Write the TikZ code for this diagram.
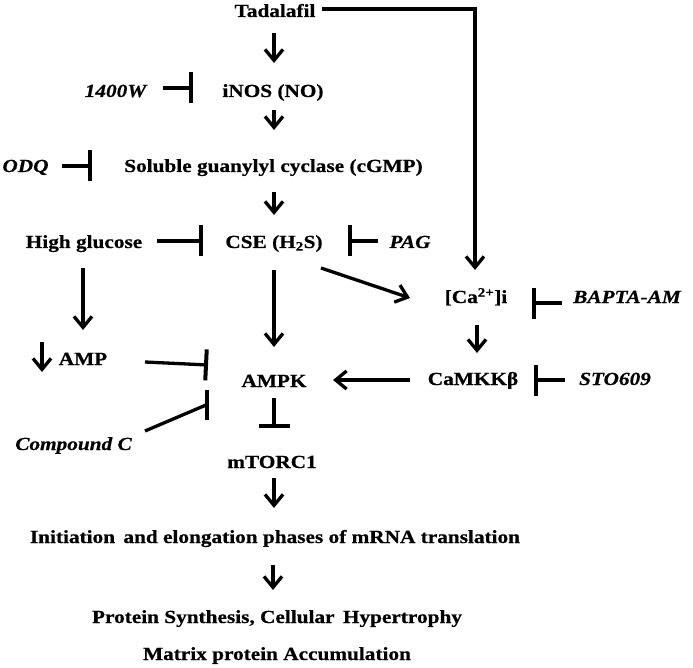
\documentclass[tikz,border=0pt]{standalone}
\usepackage{fontspec}
\setmainfont{Liberation Serif}[FakeStretch=1.15, BoldFeatures={FakeBold=0.6}, BoldItalicFeatures={FakeBold=0.6}]
\usetikzlibrary{arrows.meta,calc}
\tikzset{
  txt/.style={font=\fontsize{18.5}{21}\selectfont\bfseries, inner sep=0pt, anchor=base},
  drug/.style={font=\fontsize{18.5}{21}\selectfont\bfseries\itshape, inner sep=0pt, anchor=base},
  act/.style={line width=3.3pt, -{Straight Barb[length=11pt,width=18pt]}},
  inh/.style={line width=3.3pt, -{Bar[width=31pt,line width=4pt]}},
  plain/.style={line width=3.3pt},
  barline/.style={line width=4pt},
}
\begin{document}
\begin{tikzpicture}[x=1pt,y=-1pt]
\fill[white] (0,0) rectangle (693,668);
\useasboundingbox (0,0) rectangle (693,668);
% nodes
\node[txt] (tad) at (275,17) {Tadalafil};
\node[txt] (inos) at (273,97) {iNOS (NO)};
\node[drug] (w1400) at (115.5,97) {1400W};
\node[drug] (odq) at (25.5,172) {ODQ};
\node[txt] (sgc) at (273.5,172) {Soluble guanylyl cyclase (cGMP)};
\node[txt] (hg) at (84,248) {High glucose};
\node[txt] (cse) at (274,248) {CSE (H\textsubscript{2}S)};
\node[drug] (pag) at (410,248) {PAG};
\node[txt] (ca) at (476,303) {[Ca\textsuperscript{2+}]i};
\node[drug] (bapta) at (627,303) {BAPTA-AM};
\node[txt] (amp) at (83,365) {AMP};
\node[txt] (ampk) at (274,387) {AMPK};
\node[txt] (camkk) at (473,385) {CaMKKβ};
\node[drug] (sto) at (615,385) {STO609};
\node[drug] (cpdc) at (73.5,450) {Compound C};
\node[txt] (mtor) at (272,468) {mTORC1};
\node[txt] (init) at (275,543) {Initiation\, and elongation phases of mRNA translation};
\node[txt] (prot) at (277,623) {Protein Synthesis, Cellular\, Hypertrophy};
\node[txt] (matrix) at (277,660) {Matrix protein Accumulation};
% connectors
\draw[act] ($(tad.base)+(-1,16)$) -- ($(inos.base)+(1,-34)$);
\draw[act, line join=miter] ($(tad.base)+(47,-8)$) -| ($(ca.base)+(-1,-33)$);
\draw[inh] ($(w1400.base)+(47.5,-9)$) -- ($(inos.base)+(-80,-9)$);
\draw[act] ($(inos.base)+(1,13)$) -- ($(sgc.base)+(0.5,-42)$);
\draw[inh] ($(odq.base)+(36.5,-6)$) -- ($(sgc.base)+(-181.5,-6)$);
\draw[act] ($(sgc.base)+(0.5,20)$) -- ($(cse.base)+(0,-33)$);
\draw[inh] ($(hg.base)+(73,-7)$) -- ($(cse.base)+(-71,-7)$);
\draw[inh] ($(pag.base)+(-32,-7)$) -- ($(cse.base)+(74,-7)$);
\draw[act] ($(cse.base)+(0,22)$) -- ($(ampk.base)+(0,-40)$);
\draw[act] ($(cse.base)+(47,20)$) -- ($(ca.base)+(-66,-5)$);
\draw[act] ($(hg.base)+(-1,20)$) -- ($(amp.base)+(0,-35)$);
\draw[act] ($(amp.base)+(-41,-23)$) -- ($(amp.base)+(-41,7)$);
\draw[inh] ($(amp.base)+(62,-3)$) -- ($(ampk.base)+(-66,-22)$);
\draw[plain] ($(cpdc.base)+(71.5,-19)$) -- ($(ampk.base)+(-68,18)$);
\draw[barline] ($(ampk.base)+(-67,3)$) -- ($(ampk.base)+(-67,33)$);
\draw[inh] ($(bapta.base)+(-65,0)$) -- ($(ca.base)+(56,0)$);
\draw[act] ($(ca.base)+(1,22)$) -- ($(camkk.base)+(4,-32)$);
\draw[inh] ($(sto.base)+(-50,-5)$) -- ($(camkk.base)+(61,-5)$);
\draw[act] ($(camkk.base)+(-63,-5)$) -- ($(ampk.base)+(59,-7)$);
\draw[inh] ($(ampk.base)+(0,11)$) -- ($(mtor.base)+(2,-40)$);
\draw[act] ($(mtor.base)+(2,10)$) -- ($(init.base)+(-1,-35)$);
\draw[act] ($(init.base)+(-2,22)$) -- ($(prot.base)+(-4,-33)$);
\end{tikzpicture}
\end{document}
